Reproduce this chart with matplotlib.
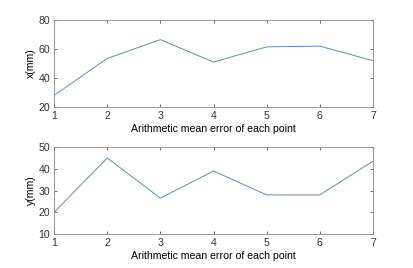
import numpy as np
from matplotlib import pyplot as plt

points = [1, 2, 3, 4, 5, 6, 7]
err_x = [28, 53.5, 66.5, 51, 61.5, 62, 52]
err_y = [20, 45, 26.5, 39, 28, 28, 43.5]

plt.rcParams['font.family'] = ['Liberation Sans', 'DejaVu Sans']
plt.rcParams['font.size'] = 7.6

fig = plt.figure(figsize=(4.13, 2.68), dpi=100)
ax1 = fig.add_axes([0.131, 0.601, 0.772, 0.324])
ax2 = fig.add_axes([0.131, 0.127, 0.772, 0.324])

ax1.plot(points, err_x, color='#5a8fbb', lw=0.7)
ax2.plot(points, err_y, color='#5a8fbb', lw=0.7)

ax1.set_ylim(20, 80)
ax1.set_yticks([20, 40, 60, 80])
ax1.set_ylabel('x(mm)', labelpad=2)
ax2.set_ylim(10, 50)
ax2.set_yticks([10, 20, 30, 40, 50])
ax2.set_ylabel('y(mm)', labelpad=2)

for ax in [ax1, ax2]:
    ax.set_xlim(1, 7)
    ax.set_xticks(points)
    ax.set_xlabel('Arithmetic mean error of each point', labelpad=2)
    ax.tick_params(direction='in', length=2.5, width=0.5, colors='#333333',
                   top=True, right=True, pad=3)
    for s in ax.spines.values():
        s.set_color('#888888')
        s.set_linewidth(0.6)

fig.savefig('out.png', dpi=100)
